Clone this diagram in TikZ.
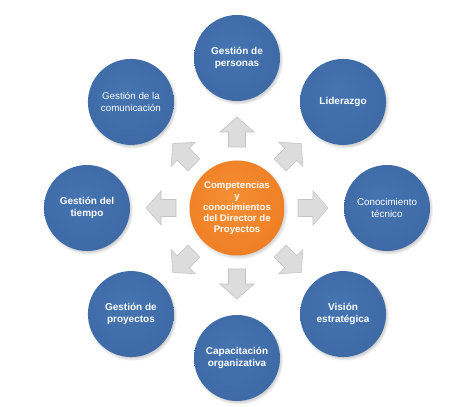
\documentclass[tikz,border=0pt]{standalone}
\usepackage{fontspec}
\setmainfont{Liberation Sans}
\usetikzlibrary{shadows,calc}
\definecolor{bA}{HTML}{4574B0}
\definecolor{bB}{HTML}{3C68A3}
\definecolor{bC}{HTML}{2A4D80}
\definecolor{bD}{HTML}{678DC2}
\definecolor{oA}{HTML}{F78F35}
\definecolor{oB}{HTML}{EC7A1F}
\definecolor{oC}{HTML}{C65F0E}
\definecolor{oD}{HTML}{F9B070}
\definecolor{arrF}{HTML}{DCDCDC}
\definecolor{arrD}{HTML}{C4C4C4}
\pgfdeclareradialshading{ballblue}{\pgfpoint{-4bp}{6bp}}{color(0bp)=(bA); color(36bp)=(bB); color(45bp)=(bC); color(48bp)=(bD); color(50bp)=(bC)}
\pgfdeclareradialshading{ballorange}{\pgfpoint{-4bp}{6bp}}{color(0bp)=(oA); color(36bp)=(oB); color(45bp)=(oC); color(48bp)=(oD); color(50bp)=(oC)}
\tikzset{
  outer/.style={circle, minimum size=86pt, inner sep=0pt, shade, shading=ballblue,
    text=white, align=center, font=\bfseries\fontsize{10}{12.5}\selectfont,
    circular drop shadow={shadow xshift=1pt, shadow yshift=-1.5pt, shadow scale=1.05, fill=black!30}},
  outerreg/.style={outer, font=\fontsize{9.8}{12.5}\selectfont},
  inner/.style={circle, minimum size=95pt, inner sep=0pt, shade, shading=ballorange,
    text=white, align=center, font=\bfseries\fontsize{9.6}{11.2}\selectfont,
    circular drop shadow={shadow xshift=1pt, shadow yshift=-1.5pt, shadow scale=1.05, fill=black!28}},
  arrowfill/.style={fill=arrF, draw=arrD, line width=0.6pt, line join=miter},
  garr/.pic={\draw[arrowfill] (-15,-8.5) -- (0,-8.5) -- (0,-17) -- (15,0) -- (0,17) -- (0,8.5) -- (-15,8.5) -- cycle;}
}
\begin{document}
\begin{tikzpicture}[x=1pt,y=1pt]
\useasboundingbox[fill=white] (0,0) rectangle (458,407);
\coordinate (C) at (237,199);
\foreach \a in {90,45,0,-45,-90,-135,180,135}{
  \pic[rotate=\a] at ($(C)+(\a:76)$) {garr};
}
\node[inner] (center) at (C) {Competencias\\y\\conocimientos\\del Director de\\Proyectos};
\node[outer] (personas) at ($(C)+(90:150)$) {Gestión de\\personas};
\node[outer] (liderazgo) at ($(C)+(45:150)$) {Liderazgo};
\node[outerreg] (tecnico) at ($(C)+(0:150)$) {Conocimiento\\técnico};
\node[outer] (vision) at ($(C)+(-45:150)$) {Visión\\estratégica};
\node[outer] (capacitacion) at ($(C)+(-90:150)$) {Capacitación\\organizativa};
\node[outer] (proyectos) at ($(C)+(-135:150)$) {Gestión de\\proyectos};
\node[outer] (tiempo) at ($(C)+(180:150)$) {Gestión del\\tiempo};
\node[outerreg] (comunicacion) at ($(C)+(135:150)$) {Gestión de la\\comunicación};
\end{tikzpicture}
\end{document}
